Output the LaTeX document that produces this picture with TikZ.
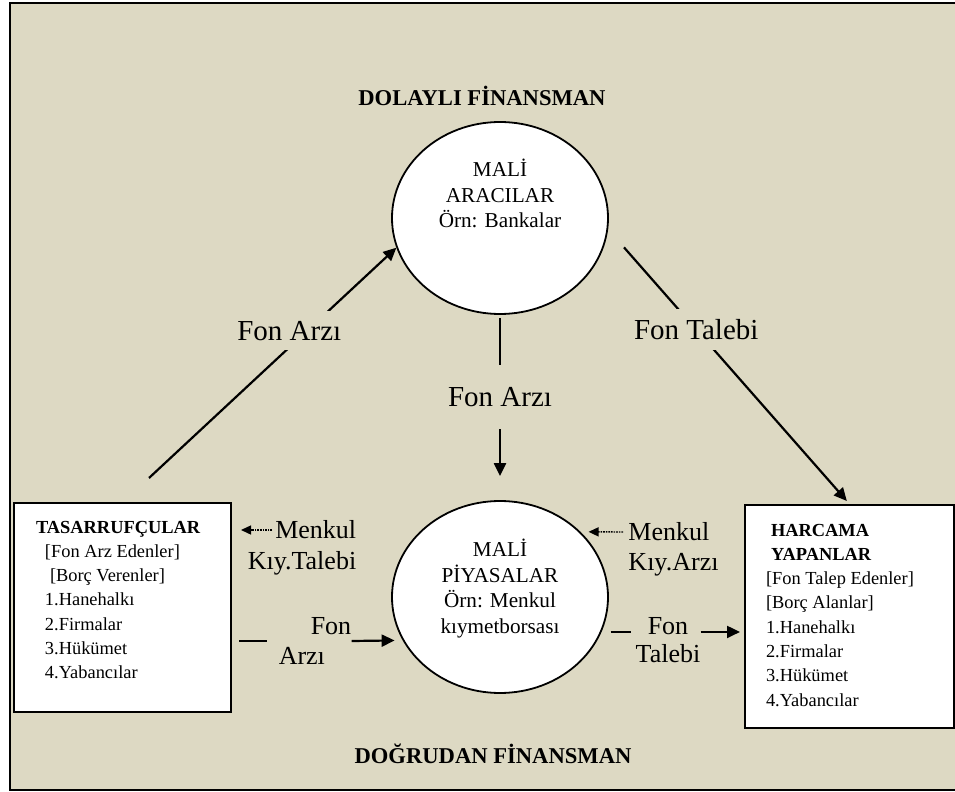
\documentclass[tikz,border=0pt]{standalone}
\usepackage{fontspec}
\setmainfont{Liberation Serif}
\usetikzlibrary{shapes.geometric,arrows.meta}
\definecolor{zemin}{RGB}{221,217,195}
\newcommand{\basfnt}{\fontsize{11.3}{13}\selectfont\bfseries}
\newcommand{\dairefnt}{\fontsize{10.6}{12.75}\selectfont}
\newcommand{\okfnt}{\fontsize{14.5}{17}\selectfont}
\newcommand{\kutufnt}{\fontsize{9.2}{12.15}\selectfont}

\begin{document}
\begin{tikzpicture}[x=0.5pt, y=-0.5pt,
	daire/.style={ellipse, draw, line width=0.9pt, fill=white, minimum width=108pt, minimum height=96pt, inner sep=0pt, align=center, font=\dairefnt},
	kutu/.style={draw, line width=1pt, fill=white, inner sep=0pt, anchor=north west},
	baslik/.style={font=\basfnt},
	etiket/.style={font=\okfnt, fill=zemin, inner xsep=3pt, inner ysep=5pt},
	yazi/.style={inner sep=0pt},
	cizgi/.style={line width=0.9pt},
	ok/.style={line width=1.1pt, -{Triangle[length=6.5pt,width=6pt]}},
	noktaok/.style={line width=0.7pt, dash pattern=on 0.8pt off 0.5pt, -{Triangle[length=5pt,width=4.5pt]}}]

		\useasboundingbox (0,0) rectangle (955,792);
		\fill[zemin] (10,3) rectangle (955,790);
		\draw[line width=1pt] (955,3) -- (10,3) -- (10,790) -- (955,790);

		\node[baslik] (dolayli) at (482,96) {DOLAYLI FİNANSMAN};
		\node[baslik] (dogrudan) at (493,754) {DOĞRUDAN FİNANSMAN};

		\node[daire] (aracilar) at (500,218) {MALİ\\ARACILAR\\Örn: Bankalar\\[11.6pt]\mbox{}};
		\node[daire] (piyasa) at (500,597) {MALİ\\PİYASALAR\\Örn: Menkul\\kıymetborsası\\[-2.2pt]\mbox{}};

		\node[kutu] (tas) at (13,502) {\parbox[t][104.5pt][t]{108.5pt}{\kutufnt
			\rule{0pt}{15pt}\hspace*{11pt}\textbf{TASARRUFÇULAR}\\
			\hspace*{15.5pt}[Fon Arz Edenler]\\
			\hspace*{18pt}[Borç Verenler]\\
			\hspace*{15.5pt}1.Hanehalkı\\
			\hspace*{15.5pt}2.Firmalar\\
			\hspace*{15.5pt}3.Hükümet\\
			\hspace*{15.5pt}4.Yabancılar}};

		\node[kutu] (harcama) at (744,504) {\parbox[t][111.5pt][t]{104.5pt}{\kutufnt
			\rule{0pt}{15.5pt}\hspace*{13pt}\textbf{HARCAMA}\\
			\hspace*{13pt}\textbf{YAPANLAR}\\
			\hspace*{10.5pt}[Fon Talep Edenler]\\
			\hspace*{10.5pt}[Borç Alanlar]\\
			\hspace*{10.5pt}1.Hanehalkı\\
			\hspace*{10.5pt}2.Firmalar\\
			\hspace*{10.5pt}3.Hükümet\\
			\hspace*{10.5pt}4.Yabancılar}};

		\node[yazi, font={\fontsize{13}{15.5}\selectfont}, align=right] (menkulT) at (302,548) {Menkul\\Kıy.Talebi};
		\node[yazi, font={\fontsize{13}{15}\selectfont}, align=left] (menkulA) at (673.5,549) {Menkul\\Kıy.Arzı};
		\node[yazi, font={\fontsize{13}{15}\selectfont}, align=left] (fonarzi3) at (315,641) {\hspace*{16pt}Fon\\Arzı};
		\node[yazi, font={\fontsize{13}{14}\selectfont}, align=center] (fontalebi2) at (668,640) {Fon\\Talebi};

		\coordinate (tasust) at (149,478);
		\coordinate (mkT) at (272,530);
		\coordinate (mkA) at (623,532);

		\draw[ok] (tasust) -- node[etiket, pos=0.64, xshift=-9pt] (fonarzi1) {Fon Arzı} (aracilar.196);
		\draw[ok, shorten <=12pt, shorten >=2pt] (aracilar.-6) -- node[etiket, pos=0.365] (fontalebi1) {Fon Talebi} (harcama.north);
		\draw[ok, shorten <=1.5pt, shorten >=12pt] (aracilar) -- node[etiket, pos=0.444, inner ysep=11pt] (fonarzi2) {Fon Arzı} (piyasa);

		\draw[noktaok, shorten >=4.5pt] (mkT) -- (tas.east |- mkT);
		\draw[noktaok, shorten >=4pt] (mkA) -- (piyasa.39);

		\draw[cizgi, shorten <=3.5pt, shorten >=5.5pt] (tas.east |- fonarzi3.west) -- (fonarzi3.west);
		\draw[ok, shorten >=4pt] (fonarzi3.east) -- (piyasa.204);
		\draw[cizgi, shorten <=4.5pt, shorten >=2pt] (piyasa.-19) -- (piyasa.-19 -| fontalebi2.west);
		\draw[ok, shorten >=2pt] (fontalebi2.east |- piyasa.-19) -- (harcama.west |- piyasa.-19);
	\end{tikzpicture}
\end{document}
